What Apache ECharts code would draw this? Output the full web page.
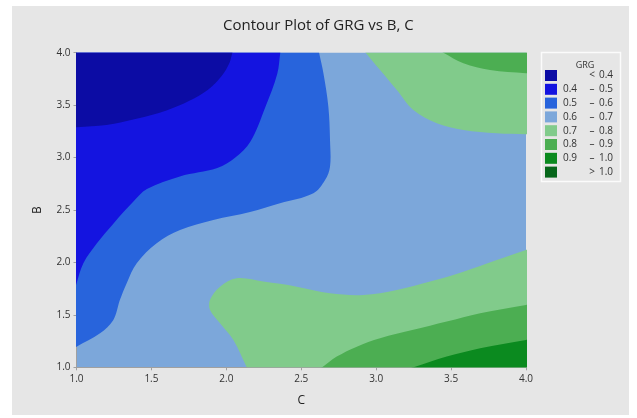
<!DOCTYPE html>
<html>
<head>
<meta charset="utf-8">
<script src="https://cdn.jsdelivr.net/npm/echarts@6/dist/echarts.min.js"></script>
<style>
  html, body { margin: 0; padding: 0; background: #fff; }
  #chart { width: 637px; height: 418px; }
</style>
</head>
<body>
<div id="chart"></div>
<script>
// contour levels and band colours (low -> high)
var levels = [0.4, 0.5, 0.6, 0.7, 0.8, 0.9, 1.0];
var bandColors = ['#0c0ca4', '#1414e0', '#2864dc', '#7ca7da', '#81cb8b', '#4cae52', '#0b8a1f', '#06661a'];
var cTicks = [1.0, 1.5, 2.0, 2.5, 3.0, 3.5, 4.0];
var bTicks = [1.0, 1.5, 2.0, 2.5, 3.0, 3.5, 4.0];

// contour lines, [C, B]
var lt04 = [[1.0, 3.29], [1.2, 3.31], [1.4, 3.37], [1.6, 3.45], [1.75, 3.54], [1.88, 3.65], [1.97, 3.78], [2.02, 3.9], [2.04, 4.0]];
var lt05 = [[1.0, 1.80], [1.045, 1.99], [1.135, 2.18], [1.246, 2.37], [1.38, 2.58], [1.47, 2.70], [1.69, 2.82], [1.94, 2.90], [2.06, 3.0], [2.16, 3.15], [2.26, 3.48], [2.34, 3.80], [2.36, 4.0]];
var lt06 = [[1.0, 1.197], [1.157, 1.325], [1.246, 1.452], [1.29, 1.643], [1.335, 1.802], [1.402, 1.992], [1.535, 2.183], [1.691, 2.31], [1.913, 2.405], [2.158, 2.481], [2.358, 2.564], [2.581, 2.66], [2.659, 2.786], [2.692, 2.913], [2.692, 3.168], [2.681, 3.485], [2.648, 3.804], [2.619, 4.0]];
var gt07Top = [[2.93, 4.0], [3.026, 3.835], [3.138, 3.644], [3.248, 3.454], [3.405, 3.327], [3.582, 3.263], [3.805, 3.232], [4.0, 3.222]];
var gt08Top = [[3.449, 4.0], [3.582, 3.899], [3.76, 3.835], [4.0, 3.804]];
var gt07Bottom = [[2.136, 1.0], [2.047, 1.261], [1.958, 1.42], [1.891, 1.547], [1.891, 1.643], [1.958, 1.769], [2.069, 1.849], [2.247, 1.817], [2.47, 1.769], [2.692, 1.706], [2.915, 1.69], [3.138, 1.738], [3.36, 1.817], [3.582, 1.912], [3.805, 2.024], [4.0, 2.119]];
var gt08Bottom = [[2.64, 1.0], [2.737, 1.102], [2.871, 1.197], [3.026, 1.277], [3.248, 1.357], [3.471, 1.436], [3.694, 1.516], [4.0, 1.595]];
var gt09Bottom = [[3.25, 1.0], [3.471, 1.102], [3.694, 1.182], [4.0, 1.261]];

// push an end point a little past the plot edge
function ext(p, q) {
  return [p[0] + (p[0] - q[0]) * 0.8, p[1] + (p[1] - q[1]) * 0.8];
}

// close each line round the plot corner it wraps
function region(line, corner, band) {
  var n = line.length;
  var pts = [ext(line[0], line[1])].concat(line, [ext(line[n - 1], line[n - 2]), corner]);
  return { points: pts, band: band, anchor: line[0] };
}

var regions = [
  region(lt06, [0.7, 4.3], 2),
  region(lt05, [0.7, 4.3], 1),
  region(lt04, [0.7, 4.3], 0),
  region(gt07Top, [4.3, 4.3], 4),
  region(gt08Top, [4.3, 4.3], 5),
  region(gt07Bottom, [4.3, 0.7], 4),
  region(gt08Bottom, [4.3, 0.7], 5),
  region(gt09Bottom, [4.3, 0.7], 6)
];

// legend rows
var legendRows = bandColors.map(function (c, i) {
  if (i === 0) return { sym: '<', lo: '', hi: levels[0].toFixed(1) };
  if (i === bandColors.length - 1) return { sym: '>', lo: '', hi: levels[levels.length - 1].toFixed(1) };
  return { sym: '\u2013', lo: levels[i - 1].toFixed(1), hi: levels[i].toFixed(1) };
});

var font = 'Open Sans';
var legendEls = [
  { type: 'rect', shape: { x: 541.5, y: 52.5, width: 79, height: 129 }, style: { fill: 'none', stroke: '#fbfbfb', lineWidth: 1.5 } },
  { type: 'text', x: 585, y: 65, style: { text: 'GRG', font: '9px ' + font, fill: '#333', align: 'center', verticalAlign: 'middle' } }
];
legendRows.forEach(function (r, i) {
  var y = 75.5 + i * 13.8;
  legendEls.push({ type: 'rect', shape: { x: 545, y: y - 5.5, width: 12, height: 11 }, style: { fill: bandColors[i] } });
  if (r.lo) legendEls.push({ type: 'text', x: 563, y: y, style: { text: r.lo, font: '10px ' + font, fill: '#333', verticalAlign: 'middle' } });
  legendEls.push({ type: 'text', x: 592, y: y, style: { text: r.sym, font: '10px ' + font, fill: '#333', align: 'center', verticalAlign: 'middle' } });
  legendEls.push({ type: 'text', x: 613, y: y, style: { text: r.hi, font: '10px ' + font, fill: '#333', align: 'right', verticalAlign: 'middle' } });
});

var chart = echarts.init(document.getElementById('chart'));

var axisCommon = {
  type: 'value',
  min: 1,
  max: 4,
  interval: 0.5,
  nameLocation: 'middle',
  nameTextStyle: { fontFamily: font, fontSize: 12, color: '#222' },
  axisLine: { show: true, lineStyle: { color: '#a0a0a0', width: 1 } },
  axisTick: { show: true, length: 3, lineStyle: { color: '#a0a0a0' } },
  axisLabel: { fontFamily: font, fontSize: 10, color: '#333', formatter: function (v) { return v.toFixed(1); } },
  splitLine: { show: false }
};

var option = {
  animation: false,
  backgroundColor: '#ffffff',
  title: {
    text: 'Contour Plot of GRG vs B, C',
    left: 223,
    top: 18,
    padding: 0,
    textStyle: { fontFamily: font, fontSize: 15, fontWeight: 'normal', color: '#222' }
  },
  grid: {
    left: 76.5,
    top: 52.7,
    right: 111,
    bottom: 50.7,
    containLabel: false,
    show: true,
    backgroundColor: bandColors[3],
    borderWidth: 0
  },
  xAxis: Object.assign({}, axisCommon, {
    name: 'C',
    nameGap: 27,
    axisLabel: Object.assign({}, axisCommon.axisLabel, { margin: 7 })
  }),
  yAxis: Object.assign({}, axisCommon, {
    name: 'B',
    nameGap: 33,
    nameRotate: 90,
    axisLabel: Object.assign({}, axisCommon.axisLabel, { margin: 6 })
  }),
  graphic: [
    { type: 'rect', z: -100, shape: { x: 12, y: 6, width: 617, height: 409 }, style: { fill: '#e6e6e6' } }
  ].concat(legendEls),
  series: [{
    type: 'custom',
    clip: true,
    silent: true,
    data: regions.map(function (r) { return r.anchor; }),
    renderItem: function (params, api) {
      var r = regions[params.dataIndex];
      return {
        type: 'polygon',
        shape: { points: r.points.map(function (p) { return api.coord(p); }), smooth: 0.35 },
        style: { fill: bandColors[r.band], stroke: null }
      };
    }
  }]
};

chart.setOption(option);
</script>
</body>
</html>
